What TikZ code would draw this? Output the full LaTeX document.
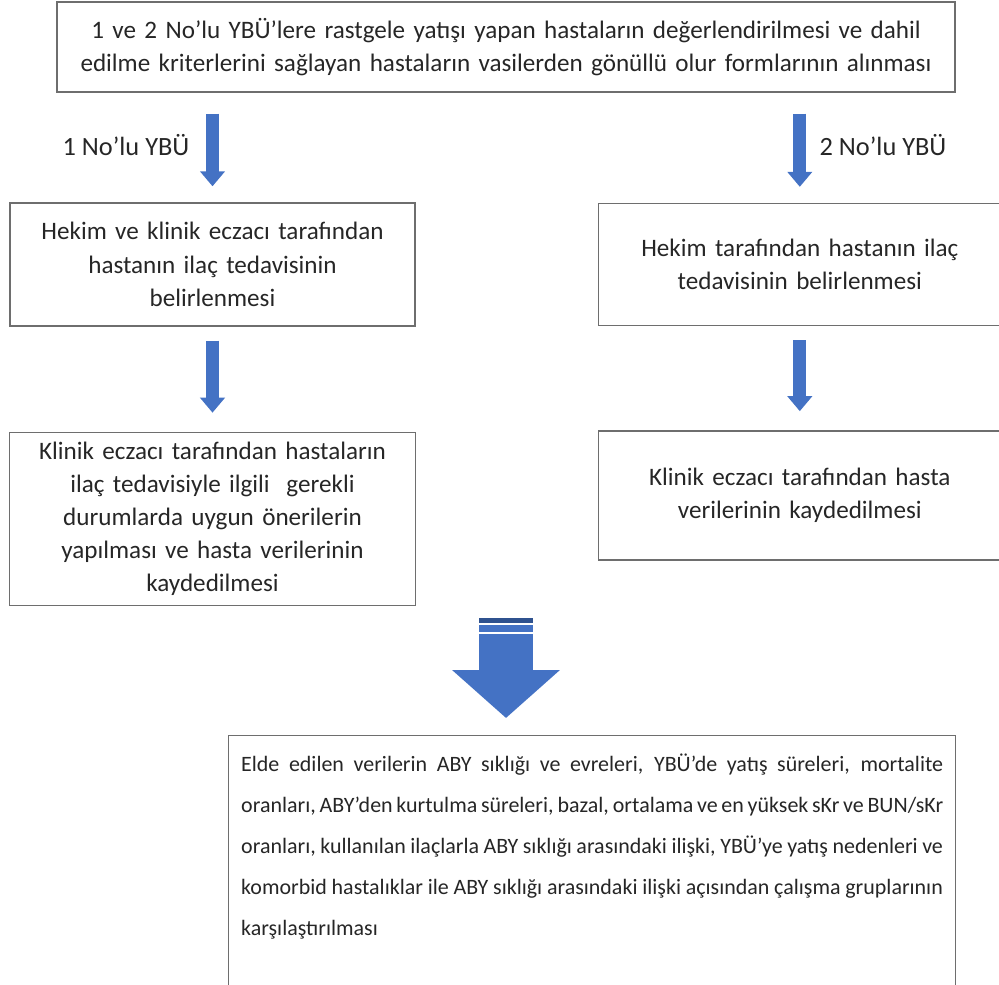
\documentclass[tikz,border=0pt]{standalone}
\usepackage{fontspec}
\setmainfont{Carlito}
\usetikzlibrary{arrows.meta, calc, positioning}

\definecolor{ybublue}{HTML}{4472C4}
\definecolor{ybudark}{HTML}{2F528F}
\definecolor{boxgray}{HTML}{6E6E6E}
\definecolor{txtgray}{HTML}{262626}

\begin{document}
\begin{tikzpicture}[
  x=0.02cm, y=-0.02cm,
  font=\fontsize{14.3}{18.9}\selectfont, text=txtgray,
  box/.style={draw=boxgray, line width=0.8pt, align=center, inner sep=0pt},
  smallarrow/.style={draw=ybublue, line width=7.4pt, -{Triangle[width=13.7pt,length=8.5pt]}},
  bigarrow/.style={draw=ybublue, line width=30.7pt, -{Triangle[width=59.8pt,length=27.3pt]}}] % 1 unit = 1 px of the page

  \useasboundingbox (0,0) rectangle (999,984);

  \node[box, minimum width=17.96cm, minimum height=1.8cm, text width=17.6cm] (top) at (506,47)
    {1 ve 2 No’lu YBÜ’lere rastgele yatışı yapan hastaların değerlendirilmesi ve dahil\\
     edilme kriterlerini sağlayan hastaların vasilerden gönüllü olur formlarının alınması};

  \node[box, minimum width=8.1cm, minimum height=2.46cm, text width=7.6cm] (hekim1) at (212.5,264.5)
    {Hekim ve klinik eczacı tarafından\\ hastanın ilaç tedavisinin\\ belirlenmesi};
  \node[box, minimum width=8.06cm, minimum height=2.44cm, text width=7.6cm,
        right=3.64cm of hekim1] (hekim2)
    {Hekim tarafından hastanın ilaç\\ tedavisinin belirlenmesi};

  \node[box, minimum width=8.12cm, minimum height=3.46cm, text width=7.6cm,
        below=2.1cm of hekim1] (eczaci1)
    {Klinik eczacı tarafından hastaların\\ ilaç tedavisiyle ilgili\ \ gerekli\\ durumlarda uygun önerilerin\\
     yapılması ve hasta verilerinin\\ kaydedilmesi};
  \node[box, minimum width=8.06cm, minimum height=2.58cm, text width=7.6cm,
        below=2.08cm of hekim2] (eczaci2)
    {Klinik eczacı tarafından hasta\\ verilerinin kaydedilmesi};

  \node[box, anchor=north west, align=justify, text width=14.04cm, inner xsep=0.25cm,
        inner ysep=0.36cm, font=\fontsize{12.5}{23.3}\selectfont] (sonuc) at (228,735)
    {Elde edilen verilerin ABY sıklığı ve evreleri, YBÜ’de yatış süreleri, mortalite\linebreak
     oranları, ABY’den kurtulma süreleri, bazal, ortalama ve en yüksek sKr ve BUN/sKr\linebreak
     oranları, kullanılan ilaçlarla ABY sıklığı arasındaki ilişki, YBÜ’ye yatış nedenleri ve\linebreak
     komorbid hastalıklar ile ABY sıklığı arasındaki ilişki açısından çalışma gruplarının\linebreak
     karşılaştırılması\\ \rule{0pt}{2cm}};

  \node[font=\fontsize{15}{18}\selectfont] (no1) at (126,145) {1 No’lu YBÜ};
  \node[font=\fontsize{15}{18}\selectfont] (no2) at (883,145) {2 No’lu YBÜ};

  % block arrows
  \draw[smallarrow] ($(top.south -| hekim1.north)+(0,21)$) -- ($(hekim1.north)+(0,-16)$);
  \draw[smallarrow] ($(top.south -| hekim2.north)+(0,21)$) -- ($(hekim2.north)+(0,-16)$);
  \draw[smallarrow] ($(hekim1.south)+(0,14)$) -- ($(eczaci1.north)+(0,-19)$);
  \draw[smallarrow] ($(hekim2.south)+(0,14)$) -- ($(eczaci2.north)+(0,-19)$);

  \coordinate (bigtop) at (506,618);
  \fill[ybudark] ($(bigtop)+(-27,0)$) rectangle ++(54,5);
  \fill[ybublue] ($(bigtop)+(-27,7)$) rectangle ++(54,7);
  \draw[bigarrow] ($(bigtop)+(0,16)$) -- ($(bigtop |- sonuc.north)+(0,-17)$);
\end{tikzpicture}
\end{document}
